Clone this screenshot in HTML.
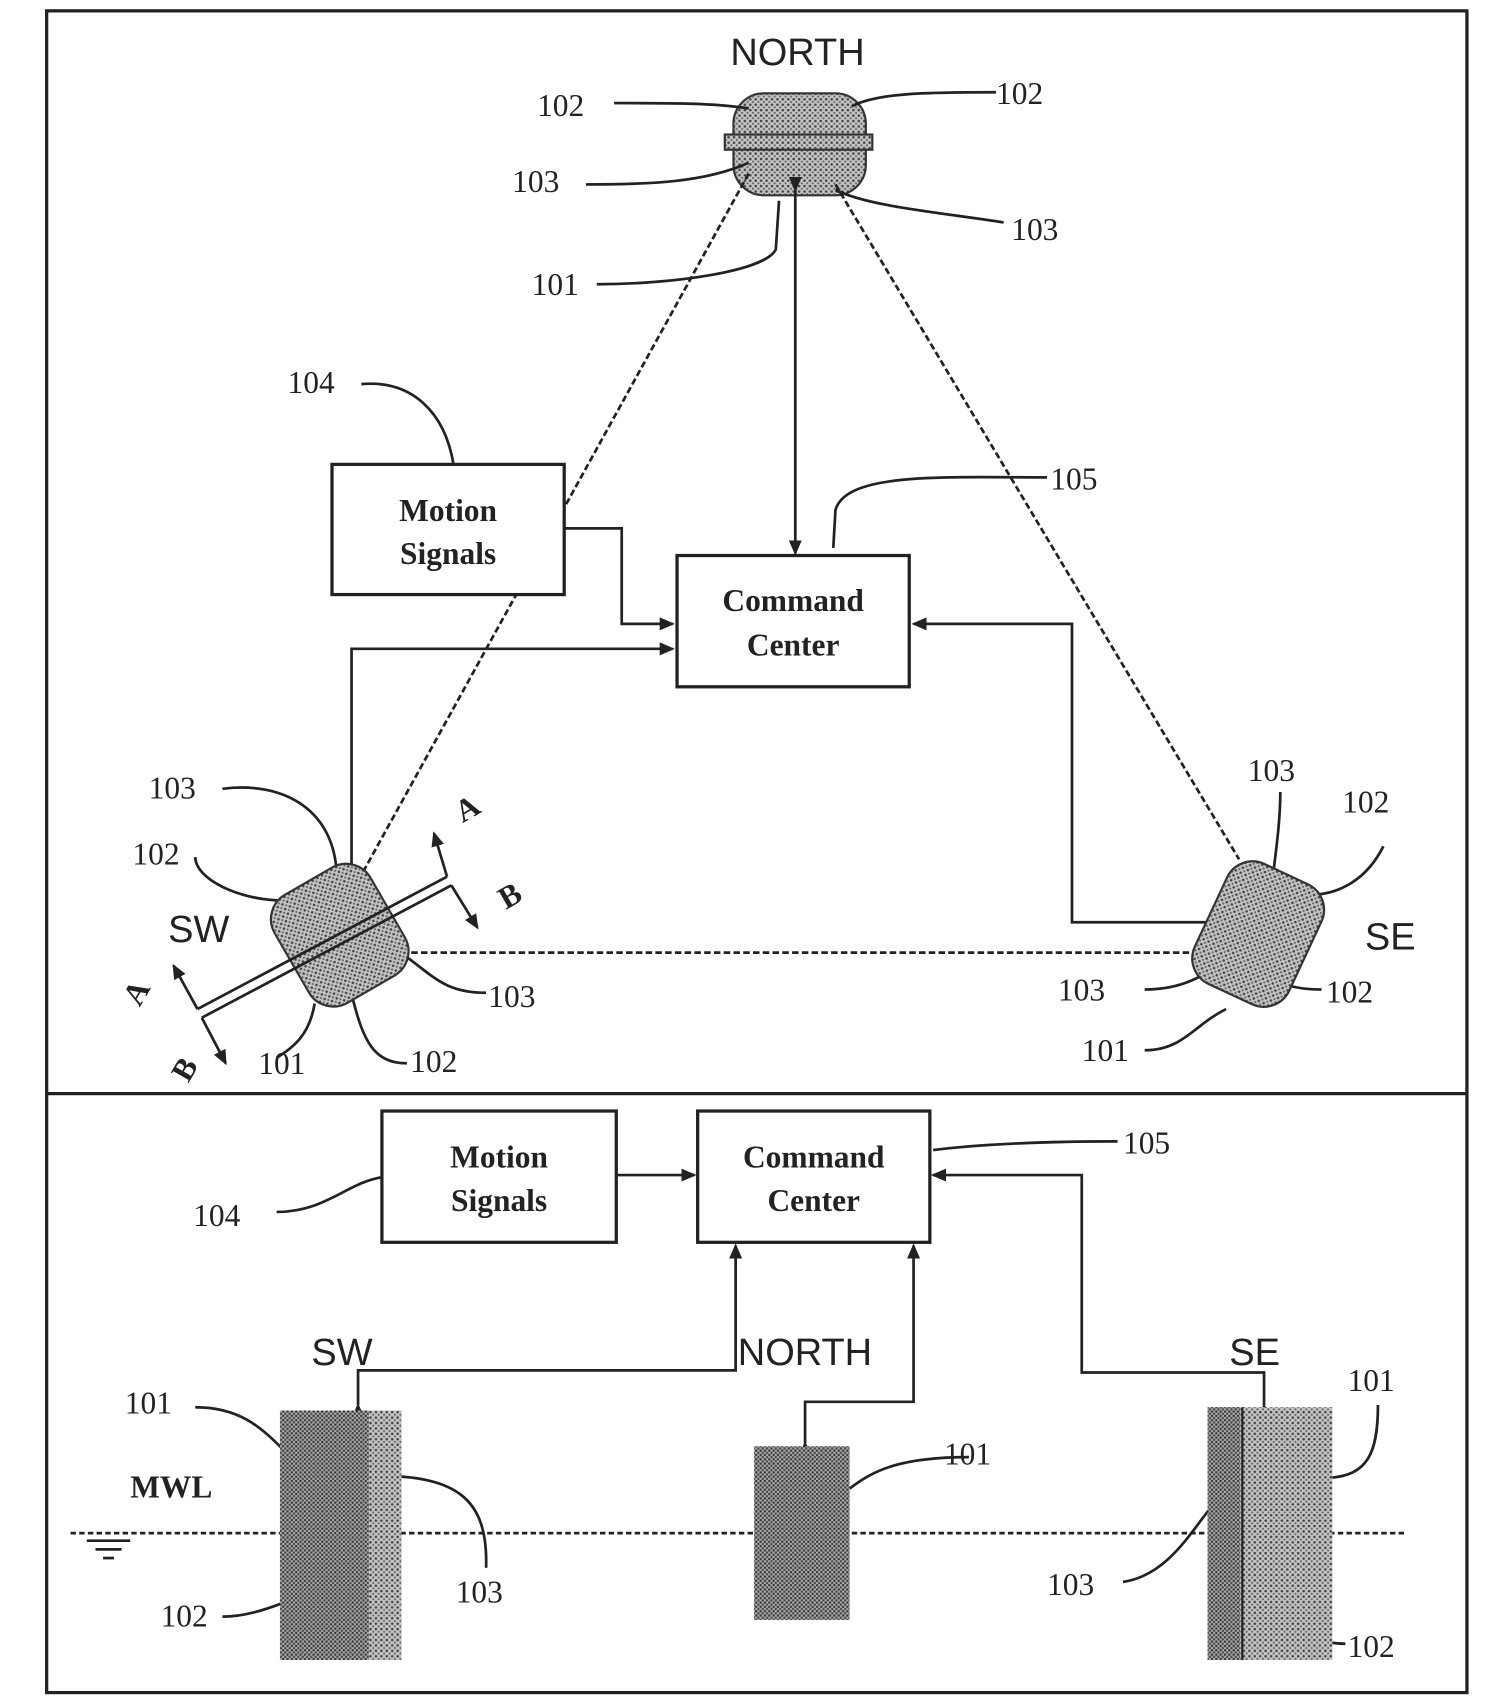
<!DOCTYPE html>
<html><head><meta charset="utf-8"><style>
html,body{margin:0;padding:0;background:#fff;}
svg{display:block;}
.n{font-family:"Liberation Serif",serif;font-size:29px;fill:#222;}
.s{font-family:"Liberation Sans",sans-serif;font-size:35px;fill:#222;}
.b{font-family:"Liberation Serif",serif;font-size:29px;font-weight:bold;fill:#222;}
</style></head><body>
<svg width="1501" height="1703" viewBox="0 0 1383.4 1569.6" preserveAspectRatio="none" xmlns="http://www.w3.org/2000/svg">
<defs>
<pattern id="h" width="5" height="5" patternUnits="userSpaceOnUse"><rect width="5" height="5" fill="#c4c4c4"/><circle cx="1.5" cy="1.5" r="1.2" fill="#444"/><circle cx="4" cy="4" r="1" fill="#666"/></pattern>
<pattern id="hd" width="4" height="4" patternUnits="userSpaceOnUse"><rect width="4" height="4" fill="#aaa"/><circle cx="1" cy="1" r="1.1" fill="#333"/><circle cx="3" cy="3" r="1.1" fill="#444"/></pattern>
<marker id="a" markerWidth="14" markerHeight="12" refX="12" refY="6" orient="auto" markerUnits="userSpaceOnUse"><path d="M0,0 L14,6 L0,12 z" fill="#222"/></marker>
</defs>
<g stroke="#222" fill="none" stroke-width="3">
<rect x="43" y="10" width="1309" height="1550"/>
<line x1="43" y1="1008" x2="1352" y2="1008"/>
</g>
<!-- TOP -->
<text class="s" x="735" y="60" text-anchor="middle">NORTH</text>
<rect x="676" y="86" width="122" height="94" rx="28" fill="url(#h)" stroke="#333" stroke-width="2"/>
<rect x="668" y="124" width="136" height="14" fill="url(#h)" stroke="#333" stroke-width="2"/>
<g stroke="#222" stroke-width="2.5" fill="none">
<line x1="690" y1="160" x2="330" y2="812" stroke-dasharray="6,3"/>
<line x1="770" y1="170" x2="1142" y2="792" stroke-dasharray="6,3"/>
<line x1="733" y1="175" x2="733" y2="510" marker-end="url(#a)" marker-start="url(#a)"/>
<path d="M520,487 H573 V575 H620" marker-end="url(#a)"/>
<path d="M324,828 V598 H620" marker-end="url(#a)" marker-start="url(#a)"/>
<path d="M1133,850 H988 V575 H842" marker-end="url(#a)" marker-start="url(#a)"/>
<line x1="370" y1="878" x2="1100" y2="878" stroke-dasharray="6,3"/>
<path d="M566,95 C620,95 660,95 690,100"/>
<path d="M918,85 C860,85 810,85 785,98"/>
<path d="M540,170 C600,170 650,168 690,150"/>
<path d="M925,205 C860,195 800,190 770,175"/>
<path d="M550,262 C620,262 705,250 715,230 L718,185"/>
<path d="M333,354 C380,350 410,380 418,428"/>
<path d="M965,440 C870,440 780,435 770,470 L768,505"/>
<path d="M205,727 C260,720 305,745 310,800"/>
<path d="M180,790 C180,810 220,830 262,830"/>
<path d="M448,915 C410,915 400,900 372,880"/>
<path d="M255,975 C270,965 285,955 290,925"/>
<path d="M375,980 C345,980 335,960 325,920"/>
<path d="M1180,730 C1180,760 1175,790 1172,818"/>
<path d="M1275,780 C1260,810 1235,825 1205,825"/>
<path d="M1055,912 C1090,912 1110,900 1135,880"/>
<path d="M1218,912 C1190,912 1175,905 1160,895"/>
<path d="M1055,968 C1090,968 1100,945 1130,930"/>
</g>
<rect x="306" y="428" width="214" height="120" fill="#fff" stroke="#222" stroke-width="3"/>
<text class="b" x="413" y="480" text-anchor="middle">Motion</text>
<text class="b" x="413" y="520" text-anchor="middle">Signals</text>
<rect x="624" y="512" width="214" height="121" fill="#fff" stroke="#222" stroke-width="3"/>
<text class="b" x="731" y="563" text-anchor="middle">Command</text>
<text class="b" x="731" y="604" text-anchor="middle">Center</text>
<g transform="rotate(-30 312 862)">
<rect x="262" y="805" width="102" height="115" rx="26" fill="url(#h)" stroke="#333" stroke-width="2"/>
</g>
<g stroke="#222" stroke-width="2.5" fill="none">
<line x1="182" y1="930" x2="412" y2="808"/>
<line x1="186" y1="938" x2="416" y2="816"/>
<line x1="412" y1="808" x2="400" y2="768" marker-end="url(#a)"/>
<line x1="416" y1="816" x2="440" y2="855" marker-end="url(#a)"/>
<line x1="182" y1="930" x2="160" y2="890" marker-end="url(#a)"/>
<line x1="186" y1="938" x2="208" y2="980" marker-end="url(#a)"/>
</g>
<g transform="rotate(25 1160 860)">
<rect x="1112" y="800" width="96" height="122" rx="26" fill="url(#h)" stroke="#333" stroke-width="2"/>
</g>
<text class="s" x="155" y="868">SW</text>
<text class="s" x="1258" y="875">SE</text>
<g class="n">
<text x="495" y="107">102</text><text x="918" y="96">102</text>
<text x="472" y="177">103</text><text x="932" y="221">103</text>
<text x="490" y="272">101</text><text x="265" y="362">104</text>
<text x="968" y="451">105</text>
<text x="137" y="736">103</text><text x="122" y="797">102</text>
<text x="450" y="928">103</text><text x="238" y="990">101</text><text x="378" y="988">102</text>
<text x="1150" y="720">103</text><text x="1237" y="749">102</text>
<text x="975" y="922">103</text><text x="1222" y="924">102</text><text x="997" y="978">101</text>
</g>
<g class="b" font-size="26">
<text x="420" y="755" transform="rotate(-30 430 745)">A</text>
<text x="460" y="835" transform="rotate(-30 470 825)">B</text>
<text x="115" y="925" transform="rotate(-60 125 915)">A</text>
<text x="160" y="995" transform="rotate(-60 170 985)">B</text>
</g>
<!-- BOTTOM -->
<rect x="352" y="1024" width="216" height="121" fill="#fff" stroke="#222" stroke-width="3"/>
<text class="b" x="460" y="1076" text-anchor="middle">Motion</text>
<text class="b" x="460" y="1116" text-anchor="middle">Signals</text>
<rect x="643" y="1024" width="214" height="121" fill="#fff" stroke="#222" stroke-width="3"/>
<text class="b" x="750" y="1076" text-anchor="middle">Command</text>
<text class="b" x="750" y="1116" text-anchor="middle">Center</text>
<g stroke="#222" stroke-width="2.5" fill="none">
<line x1="568" y1="1083" x2="640" y2="1083" marker-end="url(#a)"/>
<path d="M330,1295 V1263 H678 V1148" marker-end="url(#a)" marker-start="url(#a)"/>
<path d="M742,1330 V1292 H842 V1148" marker-end="url(#a)" marker-start="url(#a)"/>
<path d="M1165,1295 V1265 H997 V1083 H860" marker-end="url(#a)" marker-start="url(#a)"/>
<path d="M1030,1052 C960,1052 900,1055 860,1060"/>
<path d="M255,1117 C300,1117 320,1090 352,1085"/>
<path d="M180,1297 C220,1297 240,1315 260,1335"/>
<path d="M345,1360 C420,1360 450,1380 448,1445"/>
<path d="M205,1490 C240,1490 280,1470 318,1450"/>
<path d="M893,1343 C830,1343 805,1355 783,1372"/>
<path d="M1270,1295 C1270,1340 1260,1360 1225,1362"/>
<path d="M1035,1458 C1090,1450 1110,1380 1140,1368"/>
<path d="M1240,1515 C1210,1515 1185,1500 1160,1478"/>
<line x1="65" y1="1413" x2="1295" y2="1413" stroke-dasharray="5,3"/>
<line x1="80" y1="1420" x2="120" y2="1420"/><line x1="88" y1="1428" x2="112" y2="1428"/><line x1="95" y1="1436" x2="105" y2="1436"/>
</g>
<rect x="258" y="1300" width="112" height="230" fill="url(#hd)"/>
<rect x="340" y="1300" width="30" height="230" fill="url(#h)"/>
<rect x="695" y="1333" width="88" height="160" fill="url(#hd)"/>
<rect x="1113" y="1297" width="115" height="233" fill="url(#h)"/>
<rect x="1113" y="1297" width="30" height="233" fill="url(#hd)"/>
<line x1="1145" y1="1297" x2="1145" y2="1530" stroke="#222" stroke-width="2"/>
<text class="s" x="287" y="1258">SW</text>
<text class="s" x="680" y="1258">NORTH</text>
<text class="s" x="1133" y="1258">SE</text>
<g class="n">
<text x="178" y="1130">104</text><text x="1035" y="1063">105</text>
<text x="115" y="1303">101</text><text x="420" y="1477">103</text><text x="148" y="1499">102</text>
<text x="870" y="1350">101</text>
<text x="1242" y="1282">101</text><text x="965" y="1470">103</text><text x="1242" y="1527">102</text>
</g>
<text class="b" x="120" y="1380" font-size="24">MWL</text>
</svg>
</body></html>
